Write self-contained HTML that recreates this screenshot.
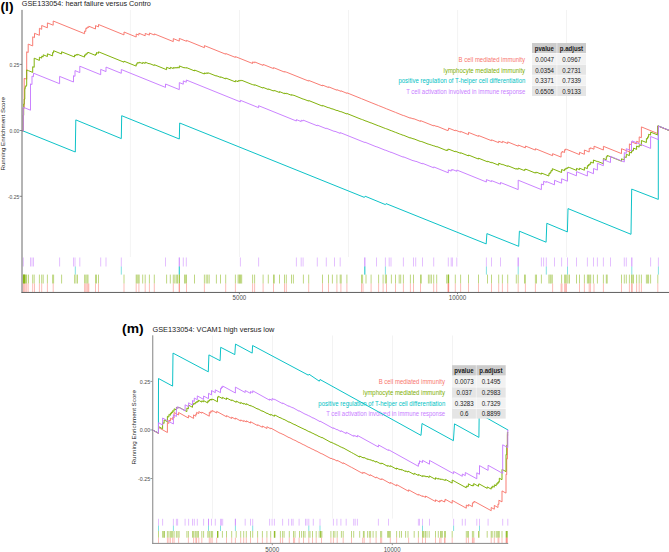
<!DOCTYPE html>
<html><head><meta charset="utf-8"><title>GSEA plots</title>
<style>html,body{margin:0;padding:0;background:#fff;width:669px;height:552px;overflow:hidden;}svg{display:block;}#w{width:669px;height:552px;}</style>
</head><body><div id="w">
<svg width="669" height="552" viewBox="0 0 669 552">
<style>
text{font-family:"Liberation Sans",sans-serif;}
.tick{fill:#4d4d4d;}
.xt{fill:#4d4d4d;}
.yt{fill:#1a1a1a;}
.ttl{fill:#1a1a1a;}
.lab{font-weight:bold;fill:#000;}
.th{font-weight:bold;fill:#1a1a1a;}
.td{fill:#1a1a1a;}
</style>
<rect width="669" height="552" fill="#fff"/>
<text x="0.51" y="10.80" class="lab" font-size="12.7" textLength="13.07" lengthAdjust="spacingAndGlyphs">(l)</text>
<text x="21.84" y="6.10" class="ttl" font-size="7.4" textLength="129.06" lengthAdjust="spacingAndGlyphs">GSE133054: heart failure versus Contro</text>
<line x1="130.4" y1="10" x2="130.4" y2="257" stroke="#ebebeb" stroke-width="0.6"/>
<line x1="239.5" y1="10" x2="239.5" y2="257" stroke="#ebebeb" stroke-width="0.6"/>
<line x1="348.5" y1="10" x2="348.5" y2="257" stroke="#ebebeb" stroke-width="0.6"/>
<line x1="457.6" y1="10" x2="457.6" y2="257" stroke="#ebebeb" stroke-width="0.6"/>
<line x1="566.5" y1="10" x2="566.5" y2="257" stroke="#ebebeb" stroke-width="0.6"/>
<text x="458.61" y="62.00" class="lg" fill="#F8766D" font-size="6.5" textLength="66.41" lengthAdjust="spacingAndGlyphs">B cell mediated immunity</text>
<text x="443.60" y="72.60" class="lg" fill="#7CAE00" font-size="6.5" textLength="81.42" lengthAdjust="spacingAndGlyphs">lymphocyte mediated immunity</text>
<text x="398.41" y="83.20" class="lg" fill="#00BFC4" font-size="6.5" textLength="126.97" lengthAdjust="spacingAndGlyphs">positive regulation of T-helper cell differentiation</text>
<text x="406.17" y="93.70" class="lg" fill="#C77CFF" font-size="6.5" textLength="119.09" lengthAdjust="spacingAndGlyphs">T cell activation involved in immune response</text>
<polyline points="22.0,130.5 75.3,152.0 75.8,119.9 121.3,138.6 121.7,115.7 179.3,139.0 179.7,123.0 364.4,197.4 365.1,196.2 385.4,204.6 386.0,203.6 486.2,243.9 486.9,233.6 518.7,246.3 519.4,231.2 546.1,242.2 546.8,223.3 567.4,231.9 568.0,208.6 631.0,234.3 631.7,189.1 658.3,199.4 658.3,125.9 669.0,130.4" fill="none" stroke="#00BFC4" stroke-width="0.95" stroke-linejoin="miter"/>
<polyline points="22.0,130.5 23.3,131.0 23.3,107.9 24.2,108.2 24.2,78.4 25.2,78.8 25.2,78.6 26.7,79.2 26.7,51.8 28.2,52.5 28.2,44.1 32.7,45.9 32.7,36.8 34.5,37.6 34.5,33.3 39.4,35.3 39.4,28.3 41.7,29.3 41.7,25.5 47.4,27.8 47.4,22.9 53.2,25.2 53.2,21.0 84.6,33.7 84.6,31.0 85.8,31.4 85.8,28.3 87.0,28.8 87.0,27.0 88.0,27.4 88.0,27.1 88.8,27.5 88.8,26.2 95.5,29.0 95.5,25.6 98.5,26.9 98.5,24.5 124.0,34.9 124.0,32.0 136.2,37.0 136.2,34.0 138.9,35.1 138.9,33.2 145.2,35.8 145.2,33.4 149.4,35.1 149.4,33.0 154.3,35.0 154.3,33.9 173.3,41.6 173.3,38.6 179.3,41.1 179.3,38.4 186.5,41.3 186.5,40.4 204.4,47.7 204.4,45.6 225.7,54.2 225.7,53.5 235.4,57.4 235.4,56.6 252.6,63.5 252.6,61.9 254.6,62.7 254.6,61.9 263.1,65.4 263.1,64.4 273.5,68.6 273.5,67.6 284.5,72.1 284.5,71.5 286.3,72.2 286.3,72.1 308.7,81.1 308.7,80.4 322.5,85.9 322.5,85.1 328.5,87.5 328.5,86.8 336.9,90.2 336.9,89.7 340.9,91.3 340.9,90.8 346.9,93.3 346.9,92.8 361.5,98.7 361.5,98.7 363.0,99.3 363.0,99.3 371.1,102.6 371.1,102.6 378.6,105.6 378.6,105.6 383.1,107.4 383.1,107.4 386.5,108.8 386.5,108.8 395.5,112.4 395.5,112.4 403.4,115.6 403.4,115.4 410.4,118.2 410.4,117.8 413.5,119.0 413.5,118.6 420.5,121.4 420.5,120.6 433.7,125.9 433.7,125.3 436.7,126.5 436.7,126.1 447.9,130.7 447.9,129.8 448.6,130.0 448.6,128.1 455.3,130.8 455.3,130.1 460.6,132.2 460.6,131.4 468.5,134.6 468.5,132.4 478.5,136.4 478.5,135.5 491.5,140.7 491.5,139.8 498.7,142.7 498.7,141.2 502.4,142.7 502.4,141.3 507.7,143.5 507.7,141.9 518.2,146.2 518.2,145.0 525.4,147.9 525.4,146.0 535.4,150.1 535.4,148.7 552.6,155.7 552.6,153.7 561.1,157.1 561.1,152.7 562.0,153.0 562.0,151.4 564.6,152.5 564.6,149.7 565.6,150.1 565.6,149.0 566.5,149.3 566.5,149.3 579.5,154.6 579.5,152.3 584.4,154.3 584.4,150.0 589.2,152.0 589.2,148.3 590.4,148.8 590.4,147.8 594.0,149.2 594.0,146.2 603.4,150.0 603.4,146.3 621.5,153.6 621.5,148.7 629.4,151.9 629.4,143.9 631.5,144.8 631.5,141.8 632.3,142.2 632.3,142.2 636.6,143.9 636.6,141.3 639.2,142.4 639.2,136.9 641.4,137.7 641.4,126.9 657.8,133.6 657.8,125.9 669.3,130.6" fill="none" stroke="#F8766D" stroke-width="0.95" stroke-linejoin="miter"/>
<polyline points="22.0,130.5 23.3,131.0 23.3,115.1 23.7,115.3 23.7,104.0 24.2,104.2 24.2,99.0 24.8,99.2 24.8,88.6 25.2,88.8 25.2,86.7 26.0,87.0 26.0,85.2 26.7,85.5 26.7,69.9 28.5,70.7 28.5,70.7 32.7,72.4 32.7,66.7 34.2,67.3 34.2,58.2 39.4,60.4 39.4,57.2 41.7,58.1 41.7,56.2 43.2,56.9 43.2,54.8 47.4,56.5 47.4,53.8 52.6,55.9 52.6,52.5 53.6,52.9 53.6,50.7 61.6,54.0 61.6,51.8 74.6,57.0 74.6,55.0 76.0,55.6 76.0,54.5 77.5,55.1 77.5,54.3 84.6,57.1 84.6,54.9 85.8,55.3 85.8,53.8 87.0,54.3 87.0,52.8 88.0,53.2 88.0,52.3 95.5,55.4 95.5,54.1 96.5,54.5 96.5,52.5 98.5,53.3 98.5,51.8 124.0,62.2 124.0,61.2 136.2,66.1 136.2,64.0 137.1,64.3 137.1,62.7 138.2,63.1 138.2,62.7 139.2,63.1 139.2,62.2 142.7,63.6 142.7,62.4 145.2,63.4 145.2,62.2 149.4,63.9 149.4,63.5 154.3,65.5 154.3,64.7 166.6,69.7 166.6,67.3 170.3,68.8 170.3,67.3 173.3,68.6 173.3,67.5 174.8,68.1 174.8,67.5 176.3,68.1 176.3,67.5 177.5,68.0 177.5,67.3 179.3,68.0 179.3,65.9 184.5,68.0 184.5,67.5 185.6,67.9 185.6,67.8 186.5,68.1 186.5,67.6 194.5,70.9 194.5,70.0 204.4,74.0 204.4,72.9 206.2,73.6 206.2,72.9 207.7,73.5 207.7,72.7 209.2,73.3 209.2,73.2 216.4,76.1 216.4,75.7 220.5,77.4 220.5,76.8 225.7,78.9 225.7,78.0 235.4,81.9 235.4,80.6 238.1,81.7 238.1,80.6 239.2,81.1 239.2,80.6 239.9,80.8 239.9,80.4 240.7,80.8 240.7,80.3 241.7,80.7 241.7,80.3 252.6,84.7 252.6,84.5 254.6,85.3 254.6,84.7 263.1,88.1 263.1,87.4 268.3,89.5 268.3,88.9 273.5,91.0 273.5,90.7 274.3,91.0 274.3,90.4 279.5,92.5 279.5,91.6 284.5,93.7 284.5,93.0 286.3,93.8 286.3,93.2 291.5,95.3 291.5,94.6 293.4,95.4 293.4,95.1 303.4,99.2 303.4,99.0 308.7,101.1 308.7,100.5 322.5,106.1 322.5,105.4 328.5,107.8 328.5,107.5 332.4,109.1 332.4,108.8 336.9,110.6 336.9,110.3 340.2,111.6 340.2,111.5 341.2,111.9 341.2,111.7 346.9,114.0 346.9,113.5 361.5,119.4 361.5,119.3 362.6,119.7 362.6,119.7 366.0,121.1 366.0,121.0 371.1,123.0 371.1,122.9 378.6,125.9 378.6,125.8 383.1,127.6 383.1,127.6 385.4,128.5 385.4,128.5 386.5,128.9 386.5,128.8 391.4,130.8 391.4,130.7 395.5,132.4 395.5,132.3 399.2,133.8 399.2,133.8 400.7,134.4 400.7,134.3 403.4,135.4 403.4,135.2 410.4,138.1 410.4,137.7 413.5,139.0 413.5,138.7 420.5,141.5 420.5,141.3 421.3,141.6 421.3,141.4 428.4,144.2 428.4,144.0 429.9,144.6 429.9,144.5 431.4,145.1 431.4,145.0 433.7,145.9 433.7,145.7 436.7,146.9 436.7,146.5 446.7,150.6 446.7,149.9 447.9,150.4 447.9,149.1 448.6,149.4 448.6,149.1 455.3,151.8 455.3,151.2 460.6,153.3 460.6,152.7 468.5,155.9 468.5,155.0 478.5,159.1 478.5,158.2 487.5,161.8 487.5,161.2 491.5,162.8 491.5,162.3 498.7,165.2 498.7,163.2 502.4,164.7 502.4,164.3 507.7,166.4 507.7,165.7 516.3,169.2 516.3,168.6 518.2,169.3 518.2,168.1 524.5,170.6 524.5,169.5 525.4,169.9 525.4,169.0 535.4,173.1 535.4,172.3 536.5,172.8 536.5,172.2 541.4,174.2 541.4,173.0 548.9,176.0 548.9,173.5 550.1,173.9 550.1,172.0 551.1,172.4 551.1,170.4 552.3,170.9 552.3,168.7 561.6,172.5 561.6,169.5 564.6,170.7 564.6,169.0 565.6,169.4 565.6,168.4 566.8,168.9 566.8,167.8 568.0,168.3 568.0,167.1 569.5,167.7 569.5,167.5 576.5,170.4 576.5,168.4 579.5,169.7 579.5,168.2 584.4,170.2 584.4,167.4 587.4,168.6 587.4,165.6 588.5,166.1 588.5,164.6 589.7,165.1 589.7,163.8 590.7,164.2 590.7,162.0 593.4,163.1 593.4,160.0 597.4,161.6 597.4,161.3 603.4,163.7 603.4,158.5 606.3,159.7 606.3,156.7 607.2,157.0 607.2,155.4 621.5,161.2 621.5,158.8 624.3,160.0 624.3,156.7 626.3,157.5 626.3,154.3 629.4,155.6 629.4,152.2 631.5,153.0 631.5,151.1 632.3,151.5 632.3,150.2 633.5,150.7 633.5,148.1 636.6,149.4 636.6,146.0 639.2,147.1 639.2,144.7 641.4,145.6 641.4,140.5 646.4,142.5 646.4,138.5 647.6,139.0 647.6,136.9 648.6,137.3 648.6,134.3 650.6,135.1 650.6,132.1 657.8,135.0 657.8,125.9 669.3,130.5" fill="none" stroke="#7CAE00" stroke-width="0.95" stroke-linejoin="miter"/>
<polyline points="22.0,130.5 23.3,131.0 23.3,107.3 30.5,110.2 30.5,83.9 32.0,84.5 32.0,76.1 33.5,76.7 33.5,73.2 59.6,83.7 59.6,76.4 73.5,82.0 73.5,75.7 75.0,76.3 75.0,70.6 79.8,72.6 79.8,66.2 100.7,74.7 100.7,69.4 106.0,71.6 106.0,67.1 121.3,73.3 121.3,69.5 165.5,87.4 165.5,84.0 179.3,89.6 179.3,82.6 183.3,84.2 183.3,80.9 186.3,82.2 186.3,80.0 240.4,101.9 240.4,100.3 258.6,107.7 258.6,105.7 296.4,121.0 296.4,119.6 301.2,121.6 301.2,120.2 303.1,121.0 303.1,120.1 317.3,125.8 317.3,125.1 326.3,128.7 326.3,128.2 334.5,131.5 334.5,131.1 340.2,133.4 340.2,132.6 364.8,142.5 364.8,142.1 376.5,146.9 376.5,146.7 385.4,150.3 385.4,150.1 389.2,151.7 389.2,151.6 391.0,152.4 391.0,152.2 403.4,157.2 403.4,156.8 413.5,160.9 413.5,160.6 415.7,161.5 415.7,161.2 422.5,163.9 422.5,163.3 433.7,167.8 433.7,166.9 448.3,172.8 448.3,169.9 451.2,171.1 451.2,169.7 452.4,170.2 452.4,169.5 456.8,171.3 456.8,170.0 486.4,182.0 486.4,179.6 491.5,181.6 491.5,180.6 500.5,184.2 500.5,182.5 518.2,189.6 518.2,180.2 541.4,189.6 541.4,184.0 543.6,184.9 543.6,181.3 546.3,182.4 546.3,181.5 554.5,184.8 554.5,180.3 561.6,183.2 561.6,178.8 567.5,181.2 567.5,172.2 576.5,175.8 576.5,171.6 587.4,176.0 587.4,171.2 593.5,173.7 593.5,168.5 597.4,170.1 597.4,163.3 603.4,165.7 603.4,159.6 610.5,162.5 610.5,156.4 624.3,162.0 624.3,152.6 626.3,153.4 626.3,148.7 631.5,150.8 631.5,142.2 632.1,142.5 632.1,140.9 650.6,148.4 650.6,136.5 658.4,139.6 658.4,126.0 669.3,130.4" fill="none" stroke="#C77CFF" stroke-width="0.95" stroke-linejoin="miter"/>
<rect x="532.0" y="43.00" width="24.70" height="10.10" fill="#cccccc"/>
<rect x="557.20" y="43.00" width="28.80" height="10.10" fill="#cccccc"/>
<rect x="532.0" y="53.60" width="24.70" height="10.50" fill="#f2f2f2"/>
<rect x="557.20" y="53.60" width="28.80" height="10.50" fill="#f2f2f2"/>
<rect x="532.0" y="64.60" width="24.70" height="10.20" fill="#e5e5e5"/>
<rect x="557.20" y="64.60" width="28.80" height="10.20" fill="#e5e5e5"/>
<rect x="532.0" y="75.30" width="24.70" height="10.00" fill="#f2f2f2"/>
<rect x="557.20" y="75.30" width="28.80" height="10.00" fill="#f2f2f2"/>
<rect x="532.0" y="85.80" width="24.70" height="10.20" fill="#e5e5e5"/>
<rect x="557.20" y="85.80" width="28.80" height="10.20" fill="#e5e5e5"/>
<text x="534.72" y="50.70" class="th" font-size="6.4" textLength="19.17" lengthAdjust="spacingAndGlyphs">pvalue</text>
<text x="559.84" y="50.70" class="th" font-size="6.4" textLength="23.19" lengthAdjust="spacingAndGlyphs">p.adjust</text>
<text x="535.23" y="62.00" class="td" font-size="6.4" textLength="18.81" lengthAdjust="spacingAndGlyphs">0.0047</text>
<text x="562.23" y="62.00" class="td" font-size="6.4" textLength="18.81" lengthAdjust="spacingAndGlyphs">0.0967</text>
<text x="535.17" y="72.60" class="td" font-size="6.4" textLength="18.81" lengthAdjust="spacingAndGlyphs">0.0354</text>
<text x="562.23" y="72.60" class="td" font-size="6.4" textLength="18.81" lengthAdjust="spacingAndGlyphs">0.2731</text>
<text x="535.23" y="83.20" class="td" font-size="6.4" textLength="18.81" lengthAdjust="spacingAndGlyphs">0.3371</text>
<text x="562.22" y="83.20" class="td" font-size="6.4" textLength="18.81" lengthAdjust="spacingAndGlyphs">0.7339</text>
<text x="535.21" y="93.70" class="td" font-size="6.4" textLength="18.81" lengthAdjust="spacingAndGlyphs">0.6505</text>
<text x="562.21" y="93.70" class="td" font-size="6.4" textLength="18.81" lengthAdjust="spacingAndGlyphs">0.9133</text>
<path d="M23.3 257.5V266.5 M30.5 257.5V266.5 M32.0 257.5V266.5 M33.5 257.5V266.5 M59.6 257.5V266.5 M73.5 257.5V266.5 M75.0 257.5V266.5 M79.8 257.5V266.5 M100.7 257.5V266.5 M106.0 257.5V266.5 M121.3 257.5V266.5 M165.5 257.5V266.5 M179.3 257.5V266.5 M183.3 257.5V266.5 M186.3 257.5V266.5 M240.4 257.5V266.5 M258.6 257.5V266.5 M296.4 257.5V266.5 M301.2 257.5V266.5 M303.1 257.5V266.5 M317.3 257.5V266.5 M326.3 257.5V266.5 M334.5 257.5V266.5 M340.2 257.5V266.5 M364.8 257.5V266.5 M376.5 257.5V266.5 M385.4 257.5V266.5 M389.2 257.5V266.5 M391.0 257.5V266.5 M403.4 257.5V266.5 M413.5 257.5V266.5 M415.7 257.5V266.5 M422.5 257.5V266.5 M433.7 257.5V266.5 M448.3 257.5V266.5 M451.2 257.5V266.5 M452.4 257.5V266.5 M456.8 257.5V266.5 M486.4 257.5V266.5 M491.5 257.5V266.5 M500.5 257.5V266.5 M518.2 257.5V266.5 M541.4 257.5V266.5 M543.6 257.5V266.5 M546.3 257.5V266.5 M554.5 257.5V266.5 M561.6 257.5V266.5 M567.5 257.5V266.5 M576.5 257.5V266.5 M587.4 257.5V266.5 M593.5 257.5V266.5 M597.4 257.5V266.5 M603.4 257.5V266.5 M610.5 257.5V266.5 M624.3 257.5V266.5 M626.3 257.5V266.5 M631.5 257.5V266.5 M632.1 257.5V266.5 M650.6 257.5V266.5 M658.4 257.5V266.5" stroke="#C77CFF" stroke-width="0.9" stroke-opacity="0.55" fill="none"/>
<path d="M179.3 257.5V266.5 M364.8 257.5V266.5 M518.2 257.5V266.5" stroke="#C77CFF" stroke-width="0.9" stroke-opacity="0.75" fill="none"/>
<path d="M75.3 266.5V274.6 M121.3 266.5V274.6 M179.3 266.5V274.6 M364.8 266.5V274.6 M385.4 266.5V274.6 M486.4 266.5V274.6 M518.2 266.5V274.6 M546.3 266.5V274.6 M567.5 266.5V274.6 M631.8 266.5V274.6 M658.4 266.5V274.6" stroke="#00BFC4" stroke-width="0.9" stroke-opacity="0.55" fill="none"/>
<path d="M179.3 266.5V274.6 M364.8 266.5V274.6" stroke="#00BFC4" stroke-width="0.9" stroke-opacity="0.75" fill="none"/>
<path d="M23.3 274.6V283.5 M23.7 274.6V283.5 M24.2 274.6V283.5 M24.8 274.6V283.5 M25.2 274.6V283.5 M26.0 274.6V283.5 M26.7 274.6V283.5 M28.5 274.6V283.5 M32.7 274.6V283.5 M34.2 274.6V283.5 M39.4 274.6V283.5 M41.7 274.6V283.5 M43.2 274.6V283.5 M47.4 274.6V283.5 M52.6 274.6V283.5 M53.6 274.6V283.5 M61.6 274.6V283.5 M74.6 274.6V283.5 M76.0 274.6V283.5 M77.5 274.6V283.5 M84.6 274.6V283.5 M85.8 274.6V283.5 M87.0 274.6V283.5 M88.0 274.6V283.5 M95.5 274.6V283.5 M96.5 274.6V283.5 M98.5 274.6V283.5 M124.0 274.6V283.5 M136.2 274.6V283.5 M137.1 274.6V283.5 M138.2 274.6V283.5 M139.2 274.6V283.5 M142.7 274.6V283.5 M145.2 274.6V283.5 M149.4 274.6V283.5 M154.3 274.6V283.5 M166.6 274.6V283.5 M170.3 274.6V283.5 M173.3 274.6V283.5 M174.8 274.6V283.5 M176.3 274.6V283.5 M177.5 274.6V283.5 M179.3 274.6V283.5 M184.5 274.6V283.5 M185.6 274.6V283.5 M186.5 274.6V283.5 M194.5 274.6V283.5 M204.4 274.6V283.5 M206.2 274.6V283.5 M207.7 274.6V283.5 M209.2 274.6V283.5 M216.4 274.6V283.5 M220.5 274.6V283.5 M225.7 274.6V283.5 M235.4 274.6V283.5 M238.1 274.6V283.5 M239.2 274.6V283.5 M239.9 274.6V283.5 M240.7 274.6V283.5 M241.7 274.6V283.5 M252.6 274.6V283.5 M254.6 274.6V283.5 M263.1 274.6V283.5 M268.3 274.6V283.5 M273.5 274.6V283.5 M274.3 274.6V283.5 M279.5 274.6V283.5 M284.5 274.6V283.5 M286.3 274.6V283.5 M291.5 274.6V283.5 M293.4 274.6V283.5 M303.4 274.6V283.5 M308.7 274.6V283.5 M322.5 274.6V283.5 M328.5 274.6V283.5 M332.4 274.6V283.5 M336.9 274.6V283.5 M340.2 274.6V283.5 M341.2 274.6V283.5 M346.9 274.6V283.5 M361.5 274.6V283.5 M362.6 274.6V283.5 M366.0 274.6V283.5 M371.1 274.6V283.5 M378.6 274.6V283.5 M383.1 274.6V283.5 M385.4 274.6V283.5 M386.5 274.6V283.5 M391.4 274.6V283.5 M395.5 274.6V283.5 M399.2 274.6V283.5 M400.7 274.6V283.5 M403.4 274.6V283.5 M410.4 274.6V283.5 M413.5 274.6V283.5 M420.5 274.6V283.5 M421.3 274.6V283.5 M428.4 274.6V283.5 M429.9 274.6V283.5 M431.4 274.6V283.5 M433.7 274.6V283.5 M436.7 274.6V283.5 M446.7 274.6V283.5 M447.9 274.6V283.5 M448.6 274.6V283.5 M455.3 274.6V283.5 M460.6 274.6V283.5 M468.5 274.6V283.5 M478.5 274.6V283.5 M487.5 274.6V283.5 M491.5 274.6V283.5 M498.7 274.6V283.5 M502.4 274.6V283.5 M507.7 274.6V283.5 M516.3 274.6V283.5 M518.2 274.6V283.5 M524.5 274.6V283.5 M525.4 274.6V283.5 M535.4 274.6V283.5 M536.5 274.6V283.5 M541.4 274.6V283.5 M548.9 274.6V283.5 M550.1 274.6V283.5 M551.1 274.6V283.5 M552.3 274.6V283.5 M561.6 274.6V283.5 M564.6 274.6V283.5 M565.6 274.6V283.5 M566.8 274.6V283.5 M568.0 274.6V283.5 M569.5 274.6V283.5 M576.5 274.6V283.5 M579.5 274.6V283.5 M584.4 274.6V283.5 M587.4 274.6V283.5 M588.5 274.6V283.5 M589.7 274.6V283.5 M590.7 274.6V283.5 M593.4 274.6V283.5 M597.4 274.6V283.5 M603.4 274.6V283.5 M606.3 274.6V283.5 M607.2 274.6V283.5 M621.5 274.6V283.5 M624.3 274.6V283.5 M626.3 274.6V283.5 M629.4 274.6V283.5 M631.5 274.6V283.5 M632.3 274.6V283.5 M633.5 274.6V283.5 M636.6 274.6V283.5 M639.2 274.6V283.5 M641.4 274.6V283.5 M646.4 274.6V283.5 M647.6 274.6V283.5 M648.6 274.6V283.5 M650.6 274.6V283.5 M657.8 274.6V283.5" stroke="#7CAE00" stroke-width="0.9" stroke-opacity="0.55" fill="none"/>
<path d="M23.5 274.6V283.5 M24.5 274.6V283.5 M179.3 274.6V283.5 M448.6 274.6V283.5" stroke="#7CAE00" stroke-width="0.9" stroke-opacity="0.75" fill="none"/>
<path d="M23.3 283.5V292 M24.2 283.5V292 M25.2 283.5V292 M26.7 283.5V292 M28.2 283.5V292 M32.7 283.5V292 M34.5 283.5V292 M39.4 283.5V292 M41.7 283.5V292 M47.4 283.5V292 M53.2 283.5V292 M84.6 283.5V292 M85.8 283.5V292 M87.0 283.5V292 M88.0 283.5V292 M88.8 283.5V292 M95.5 283.5V292 M98.5 283.5V292 M124.0 283.5V292 M136.2 283.5V292 M138.9 283.5V292 M145.2 283.5V292 M149.4 283.5V292 M154.3 283.5V292 M173.3 283.5V292 M179.3 283.5V292 M186.5 283.5V292 M204.4 283.5V292 M225.7 283.5V292 M235.4 283.5V292 M252.6 283.5V292 M254.6 283.5V292 M263.1 283.5V292 M273.5 283.5V292 M284.5 283.5V292 M286.3 283.5V292 M308.7 283.5V292 M322.5 283.5V292 M328.5 283.5V292 M336.9 283.5V292 M340.9 283.5V292 M346.9 283.5V292 M361.5 283.5V292 M363.0 283.5V292 M371.1 283.5V292 M378.6 283.5V292 M383.1 283.5V292 M386.5 283.5V292 M395.5 283.5V292 M403.4 283.5V292 M410.4 283.5V292 M413.5 283.5V292 M420.5 283.5V292 M433.7 283.5V292 M436.7 283.5V292 M447.9 283.5V292 M448.6 283.5V292 M455.3 283.5V292 M460.6 283.5V292 M468.5 283.5V292 M478.5 283.5V292 M491.5 283.5V292 M498.7 283.5V292 M502.4 283.5V292 M507.7 283.5V292 M518.2 283.5V292 M525.4 283.5V292 M535.4 283.5V292 M552.6 283.5V292 M561.1 283.5V292 M562.0 283.5V292 M564.6 283.5V292 M565.6 283.5V292 M566.5 283.5V292 M579.5 283.5V292 M584.4 283.5V292 M589.2 283.5V292 M590.4 283.5V292 M594.0 283.5V292 M603.4 283.5V292 M621.5 283.5V292 M629.4 283.5V292 M631.5 283.5V292 M632.3 283.5V292 M636.6 283.5V292 M639.2 283.5V292 M641.4 283.5V292 M657.8 283.5V292" stroke="#F8766D" stroke-width="0.9" stroke-opacity="0.55" fill="none"/>
<path d="M179.3 283.5V292 M448.6 283.5V292" stroke="#F8766D" stroke-width="0.9" stroke-opacity="0.75" fill="none"/>
<path d="M22.0 9.9V292.9" stroke="#6b6b6b" stroke-width="1" fill="none"/>
<path d="M21.5 292.45H669" stroke="#5f5f5f" stroke-width="1" fill="none"/>
<line x1="19.6" y1="64.4" x2="22" y2="64.4" stroke="#6a6a6a" stroke-width="0.8"/>
<text x="9.62" y="66.70" class="tick" font-size="5.4" textLength="9.63" lengthAdjust="spacingAndGlyphs">0.25</text>
<line x1="19.6" y1="130.5" x2="22" y2="130.5" stroke="#6a6a6a" stroke-width="0.8"/>
<text x="9.61" y="132.80" class="tick" font-size="5.4" textLength="9.63" lengthAdjust="spacingAndGlyphs">0.00</text>
<line x1="19.6" y1="196.3" x2="22" y2="196.3" stroke="#6a6a6a" stroke-width="0.8"/>
<text x="7.97" y="198.60" class="tick" font-size="5.4" textLength="11.28" lengthAdjust="spacingAndGlyphs">-0.25</text>
<line x1="239.4" y1="292.5" x2="239.4" y2="294.2" stroke="#6a6a6a" stroke-width="0.8"/>
<text x="232.61" y="300.20" class="xt" font-size="6.6" textLength="13.59" lengthAdjust="spacingAndGlyphs">5000</text>
<line x1="457.5" y1="292.5" x2="457.5" y2="294.2" stroke="#6a6a6a" stroke-width="0.8"/>
<text x="448.63" y="300.20" class="xt" font-size="6.6" textLength="17.51" lengthAdjust="spacingAndGlyphs">10000</text>
<g transform="translate(5.3,0) rotate(-90 0 0)"><text x="-170.51" y="0.00" class="yt" font-size="6.2" textLength="73.47" lengthAdjust="spacingAndGlyphs">Running Enrichment Score</text></g>
<text x="122.11" y="333.00" class="lab" font-size="12.7" textLength="21.55" lengthAdjust="spacingAndGlyphs">(m)</text>
<text x="152.53" y="331.60" class="ttl" font-size="7.4" textLength="121.85" lengthAdjust="spacingAndGlyphs">GSE133054: VCAM1 high versus low</text>
<line x1="212.5" y1="335.5" x2="212.5" y2="518.6" stroke="#ebebeb" stroke-width="0.6"/>
<line x1="272.5" y1="335.5" x2="272.5" y2="518.6" stroke="#ebebeb" stroke-width="0.6"/>
<line x1="332.5" y1="335.5" x2="332.5" y2="518.6" stroke="#ebebeb" stroke-width="0.6"/>
<line x1="392.5" y1="335.5" x2="392.5" y2="518.6" stroke="#ebebeb" stroke-width="0.6"/>
<line x1="452.5" y1="335.5" x2="452.5" y2="518.6" stroke="#ebebeb" stroke-width="0.6"/>
<text x="378.71" y="383.80" class="lg" fill="#F8766D" font-size="6.5" textLength="66.21" lengthAdjust="spacingAndGlyphs">B cell mediated immunity</text>
<text x="363.10" y="394.60" class="lg" fill="#7CAE00" font-size="6.5" textLength="81.82" lengthAdjust="spacingAndGlyphs">lymphocyte mediated immunity</text>
<text x="318.31" y="405.50" class="lg" fill="#00BFC4" font-size="6.5" textLength="126.97" lengthAdjust="spacingAndGlyphs">positive regulation of T-helper cell differentiation</text>
<text x="326.17" y="416.30" class="lg" fill="#C77CFF" font-size="6.5" textLength="118.99" lengthAdjust="spacingAndGlyphs">T cell activation involved in immune response</text>
<polyline points="152.6,430.0 158.4,433.0 158.5,378.5 172.6,386.1 173.0,353.1 208.3,371.8 208.9,354.9 220.1,360.7 220.7,347.3 234.8,354.6 235.5,344.1 252.2,353.1 252.6,345.5 308.4,375.2 309.0,374.2 319.3,381.2 320.0,379.5 421.0,435.4 422.0,423.5 453.4,440.7 454.5,423.9 478.9,437.4 479.2,413.7 508.0,430.0" fill="none" stroke="#00BFC4" stroke-width="0.95" stroke-linejoin="miter"/>
<polyline points="152.6,430.0 158.5,433.3 158.5,427.5 167.4,432.5 167.4,422.5 168.9,423.4 168.9,420.2 170.4,421.0 170.4,418.2 172.7,419.5 172.7,417.3 174.1,418.0 174.1,412.5 178.6,415.0 178.6,412.5 188.4,418.0 188.4,415.5 193.6,418.4 193.6,414.9 195.8,416.2 195.8,414.1 196.6,414.5 196.6,412.4 198.8,413.6 198.8,411.6 201.8,413.2 201.8,412.1 209.3,416.2 209.3,412.2 210.8,413.1 210.8,410.9 212.2,411.6 212.2,410.5 216.7,413.0 216.7,411.4 226.5,416.8 226.5,415.6 231.7,418.5 231.7,417.1 235.4,419.2 235.4,418.0 240.7,421.0 240.7,419.9 243.7,421.5 243.7,420.5 246.3,422.0 246.3,420.8 250.5,423.1 250.5,421.7 257.6,425.6 257.6,424.7 262.4,427.3 262.4,426.0 266.9,428.5 266.9,426.7 270.7,428.8 270.7,428.0 280.4,433.4 280.4,433.1 282.6,434.3 282.6,434.1 289.3,437.8 289.3,437.5 293.5,439.8 293.5,439.7 294.6,440.3 294.6,440.1 299.1,442.6 299.1,442.4 303.5,444.8 303.5,444.6 308.8,447.5 308.8,447.3 312.5,449.3 312.5,449.1 316.2,451.1 316.2,450.9 321.5,453.8 321.5,453.5 330.9,458.6 330.9,458.1 333.4,459.5 333.4,459.0 337.2,461.1 337.2,460.3 343.2,463.6 343.2,462.8 351.5,467.4 351.5,467.3 362.7,473.5 362.7,472.3 364.2,473.1 364.2,472.5 370.1,475.7 370.1,474.7 376.1,478.0 376.1,477.0 380.6,479.5 380.6,479.0 381.7,479.6 381.7,478.7 390.3,483.5 390.3,482.4 396.6,485.9 396.6,484.6 408.6,491.3 408.6,489.8 418.4,495.2 418.4,494.3 422.5,496.5 422.5,495.8 425.5,497.4 425.5,496.0 435.5,501.5 435.5,499.8 439.7,502.1 439.7,500.6 441.0,501.3 441.0,500.1 444.5,502.0 444.5,500.9 445.1,501.3 445.1,499.2 452.2,503.2 452.2,500.4 466.3,508.2 466.3,505.0 468.4,506.2 468.4,504.5 472.4,506.7 472.4,503.1 473.1,503.4 473.1,502.1 474.1,502.7 474.1,501.3 491.2,510.7 491.2,507.5 494.3,509.2 494.3,505.4 498.0,507.5 498.0,503.9 498.9,504.4 498.9,500.2 502.0,501.9 502.0,490.9 506.0,493.1 506.0,474.2 506.7,474.6 506.7,458.5 507.4,458.9 507.4,434.3 508.3,434.8" fill="none" stroke="#F8766D" stroke-width="0.95" stroke-linejoin="miter"/>
<polyline points="152.6,430.0 158.5,433.3 158.5,426.5 162.6,428.8 162.6,422.6 164.1,423.4 164.1,419.9 167.4,421.7 167.4,416.3 168.9,417.1 168.9,414.5 170.4,415.3 170.4,413.1 171.6,413.8 171.6,412.0 172.7,412.6 172.7,410.6 174.1,411.4 174.1,408.8 176.4,410.0 176.4,407.3 177.9,408.2 177.9,407.3 179.1,408.0 179.1,407.3 186.9,411.6 186.9,408.0 188.4,408.8 188.4,405.1 192.5,407.3 192.5,404.2 193.6,404.8 193.6,403.3 195.1,404.1 195.1,402.6 196.1,403.1 196.1,401.8 197.3,402.4 197.3,401.0 198.5,401.6 198.5,400.2 201.8,402.1 201.8,400.8 203.6,401.8 203.6,400.6 207.8,403.0 207.8,400.9 209.0,401.5 209.0,400.0 210.0,400.6 210.0,399.2 211.5,400.1 211.5,399.1 212.6,399.7 212.6,399.1 217.5,401.8 217.5,397.2 218.2,397.6 218.2,396.2 222.4,398.6 222.4,397.3 226.5,399.5 226.5,397.9 231.7,400.7 231.7,399.8 236.2,402.3 236.2,401.0 240.7,403.5 240.7,402.4 243.7,404.1 243.7,403.3 246.3,404.7 246.3,403.7 250.5,406.0 250.5,405.4 252.7,406.7 252.7,406.4 257.6,409.1 257.6,408.7 262.4,411.3 262.4,410.9 266.9,413.4 266.9,413.1 270.7,415.2 270.7,414.3 274.4,416.3 274.4,415.0 275.1,415.4 275.1,415.1 280.4,418.0 280.4,417.7 282.6,418.9 282.6,418.8 284.1,419.6 284.1,419.4 289.3,422.3 289.3,421.9 293.5,424.2 293.5,424.0 295.0,424.9 295.0,424.7 299.5,427.1 299.5,426.9 301.6,428.1 301.6,427.9 303.5,429.0 303.5,428.8 305.0,429.7 305.0,429.5 308.8,431.6 308.8,431.4 310.0,432.1 310.0,431.9 312.5,433.3 312.5,433.1 316.2,435.1 316.2,434.9 319.2,436.6 319.2,436.4 320.7,437.2 320.7,437.1 321.9,437.8 321.9,437.4 330.9,442.4 330.9,442.0 333.4,443.4 333.4,443.2 334.9,444.1 334.9,443.9 337.2,445.2 337.2,445.0 341.4,447.3 341.4,447.1 343.2,448.1 343.2,447.9 351.5,452.5 351.5,452.5 353.7,453.7 353.7,453.7 359.7,457.1 359.7,456.0 363.4,458.0 363.4,457.5 364.2,458.0 364.2,457.5 367.6,459.4 367.6,458.8 369.4,459.8 369.4,459.5 370.6,460.1 370.6,459.7 373.1,461.1 373.1,460.5 376.1,462.2 376.1,461.3 380.6,463.8 380.6,463.2 381.7,463.8 381.7,463.0 387.6,466.3 387.6,465.5 388.5,466.0 388.5,465.8 389.6,466.4 389.6,466.2 390.3,466.6 390.3,465.7 396.6,469.2 396.6,468.0 399.6,469.7 399.6,469.1 401.5,470.1 401.5,469.4 405.6,471.6 405.6,470.8 408.0,472.1 408.0,471.1 414.2,474.5 414.2,473.2 418.4,475.5 418.4,474.4 422.5,476.6 422.5,475.7 423.2,476.1 423.2,475.8 424.0,476.3 424.0,475.8 425.5,476.7 425.5,476.1 427.0,476.9 427.0,476.3 429.2,477.5 429.2,475.9 435.5,479.4 435.5,477.7 438.3,479.2 438.3,478.3 440.5,479.5 440.5,478.9 441.4,479.4 441.4,479.1 442.4,479.6 442.4,479.2 444.5,480.3 444.5,479.9 445.5,480.4 445.5,479.4 452.2,483.1 452.2,480.0 466.3,487.8 466.3,486.0 467.7,486.8 467.7,485.9 468.4,486.3 468.4,483.8 472.4,486.0 472.4,485.1 473.7,485.8 473.7,483.6 478.5,486.3 478.5,484.2 479.1,484.5 479.1,483.9 487.2,488.4 487.2,486.9 491.2,489.1 491.2,487.4 492.2,488.0 492.2,486.1 494.3,487.2 494.3,484.8 496.2,485.9 496.2,483.8 497.3,484.4 497.3,482.7 498.4,483.3 498.4,481.7 499.3,482.2 499.3,478.2 502.0,479.7 502.0,469.4 506.0,471.6 506.0,454.4 506.7,454.8 506.7,445.3 507.4,445.7 507.4,432.2 508.3,432.7" fill="none" stroke="#7CAE00" stroke-width="0.95" stroke-linejoin="miter"/>
<polyline points="152.6,430.0 158.5,433.3 158.5,422.7 162.6,425.0 162.6,418.0 173.4,424.0 173.4,414.8 176.4,416.4 176.4,407.8 177.6,408.5 177.6,406.7 185.1,410.9 185.1,404.8 188.6,406.7 188.6,402.8 192.5,405.0 192.5,400.5 194.3,401.5 194.3,398.0 197.3,399.7 197.3,395.9 203.6,399.4 203.6,396.0 208.5,398.7 208.5,393.3 211.5,394.9 211.5,390.5 215.3,392.7 215.3,389.8 220.5,392.7 220.5,388.3 221.5,388.9 221.5,386.9 222.7,387.6 222.7,386.0 235.4,393.0 235.4,387.1 245.2,392.5 245.2,390.5 250.5,393.4 250.5,391.5 252.7,392.8 252.7,390.8 269.6,400.2 269.6,399.0 272.1,400.4 272.1,398.5 274.4,399.7 274.4,399.2 282.6,403.7 282.6,402.9 288.6,406.3 288.6,405.8 291.6,407.4 291.6,407.2 293.1,408.0 293.1,407.8 299.1,411.2 299.1,410.8 305.5,414.4 305.5,414.1 307.0,415.0 307.0,414.9 308.8,415.9 308.8,415.7 313.3,418.2 313.3,417.9 320.0,421.6 320.0,421.1 333.4,428.5 333.4,427.8 336.9,429.8 336.9,429.4 340.9,431.6 340.9,430.7 346.2,433.6 346.2,432.2 353.7,436.3 353.7,435.3 355.2,436.2 355.2,435.8 357.4,437.0 357.4,435.4 378.4,447.0 378.4,444.9 388.5,450.5 388.5,449.7 418.4,466.3 418.4,463.2 419.5,463.8 419.5,460.8 422.5,462.5 422.5,460.3 429.5,464.2 429.5,460.4 453.6,473.7 453.6,471.5 462.3,476.3 462.3,474.0 465.3,475.6 465.3,472.5 476.8,478.8 476.8,472.8 479.5,474.3 479.5,465.6 488.1,470.4 488.1,465.3 502.7,473.4 502.7,444.8 507.8,447.6 507.8,429.9 508.3,430.1" fill="none" stroke="#C77CFF" stroke-width="0.95" stroke-linejoin="miter"/>
<rect x="452.1" y="365.20" width="23.80" height="10.30" fill="#cccccc"/>
<rect x="476.40" y="365.20" width="29.30" height="10.30" fill="#cccccc"/>
<rect x="452.1" y="376.00" width="23.80" height="10.90" fill="#f2f2f2"/>
<rect x="476.40" y="376.00" width="29.30" height="10.90" fill="#f2f2f2"/>
<rect x="452.1" y="387.40" width="23.80" height="10.30" fill="#e5e5e5"/>
<rect x="476.40" y="387.40" width="29.30" height="10.30" fill="#e5e5e5"/>
<rect x="452.1" y="398.20" width="23.80" height="10.30" fill="#f2f2f2"/>
<rect x="476.40" y="398.20" width="29.30" height="10.30" fill="#f2f2f2"/>
<rect x="452.1" y="409.00" width="23.80" height="9.60" fill="#e5e5e5"/>
<rect x="476.40" y="409.00" width="29.30" height="9.60" fill="#e5e5e5"/>
<text x="454.37" y="372.80" class="th" font-size="6.4" textLength="19.17" lengthAdjust="spacingAndGlyphs">pvalue</text>
<text x="479.29" y="372.80" class="th" font-size="6.4" textLength="23.19" lengthAdjust="spacingAndGlyphs">p.adjust</text>
<text x="454.86" y="383.80" class="td" font-size="6.4" textLength="18.81" lengthAdjust="spacingAndGlyphs">0.0073</text>
<text x="481.66" y="383.80" class="td" font-size="6.4" textLength="18.81" lengthAdjust="spacingAndGlyphs">0.1495</text>
<text x="456.59" y="394.60" class="td" font-size="6.4" textLength="15.39" lengthAdjust="spacingAndGlyphs">0.037</text>
<text x="481.66" y="394.60" class="td" font-size="6.4" textLength="18.81" lengthAdjust="spacingAndGlyphs">0.2983</text>
<text x="454.86" y="405.50" class="td" font-size="6.4" textLength="18.81" lengthAdjust="spacingAndGlyphs">0.3283</text>
<text x="481.67" y="405.50" class="td" font-size="6.4" textLength="18.81" lengthAdjust="spacingAndGlyphs">0.7329</text>
<text x="459.99" y="416.30" class="td" font-size="6.4" textLength="8.55" lengthAdjust="spacingAndGlyphs">0.6</text>
<text x="481.67" y="416.30" class="td" font-size="6.4" textLength="18.81" lengthAdjust="spacingAndGlyphs">0.8899</text>
<path d="M158.5 518.8V525.6 M162.6 518.8V525.6 M173.4 518.8V525.6 M176.4 518.8V525.6 M177.6 518.8V525.6 M185.1 518.8V525.6 M188.6 518.8V525.6 M192.5 518.8V525.6 M194.3 518.8V525.6 M197.3 518.8V525.6 M203.6 518.8V525.6 M208.5 518.8V525.6 M211.5 518.8V525.6 M215.3 518.8V525.6 M220.5 518.8V525.6 M221.5 518.8V525.6 M222.7 518.8V525.6 M235.4 518.8V525.6 M245.2 518.8V525.6 M250.5 518.8V525.6 M252.7 518.8V525.6 M269.6 518.8V525.6 M272.1 518.8V525.6 M274.4 518.8V525.6 M282.6 518.8V525.6 M288.6 518.8V525.6 M291.6 518.8V525.6 M293.1 518.8V525.6 M299.1 518.8V525.6 M305.5 518.8V525.6 M307.0 518.8V525.6 M308.8 518.8V525.6 M313.3 518.8V525.6 M320.0 518.8V525.6 M333.4 518.8V525.6 M336.9 518.8V525.6 M340.9 518.8V525.6 M346.2 518.8V525.6 M353.7 518.8V525.6 M355.2 518.8V525.6 M357.4 518.8V525.6 M378.4 518.8V525.6 M388.5 518.8V525.6 M418.4 518.8V525.6 M419.5 518.8V525.6 M422.5 518.8V525.6 M429.5 518.8V525.6 M453.6 518.8V525.6 M462.3 518.8V525.6 M465.3 518.8V525.6 M476.8 518.8V525.6 M479.5 518.8V525.6 M488.1 518.8V525.6 M502.7 518.8V525.6 M507.8 518.8V525.6" stroke="#C77CFF" stroke-width="0.9" stroke-opacity="0.55" fill="none"/>
<path d="M208.5 518.8V525.6 M235.4 518.8V525.6" stroke="#C77CFF" stroke-width="0.9" stroke-opacity="0.75" fill="none"/>
<path d="M158.5 525.6V531 M173.4 525.6V531 M208.5 525.6V531 M220.5 525.6V531 M235.4 525.6V531 M252.7 525.6V531 M308.8 525.6V531 M320.0 525.6V531 M422.5 525.6V531 M453.6 525.6V531 M479.5 525.6V531" stroke="#00BFC4" stroke-width="0.9" stroke-opacity="0.55" fill="none"/>
<path d="M158.5 531V537.7 M162.6 531V537.7 M164.1 531V537.7 M167.4 531V537.7 M168.9 531V537.7 M170.4 531V537.7 M171.6 531V537.7 M172.7 531V537.7 M174.1 531V537.7 M176.4 531V537.7 M177.9 531V537.7 M179.1 531V537.7 M186.9 531V537.7 M188.4 531V537.7 M192.5 531V537.7 M193.6 531V537.7 M195.1 531V537.7 M196.1 531V537.7 M197.3 531V537.7 M198.5 531V537.7 M201.8 531V537.7 M203.6 531V537.7 M207.8 531V537.7 M209.0 531V537.7 M210.0 531V537.7 M211.5 531V537.7 M212.6 531V537.7 M217.5 531V537.7 M218.2 531V537.7 M222.4 531V537.7 M226.5 531V537.7 M231.7 531V537.7 M236.2 531V537.7 M240.7 531V537.7 M243.7 531V537.7 M246.3 531V537.7 M250.5 531V537.7 M252.7 531V537.7 M257.6 531V537.7 M262.4 531V537.7 M266.9 531V537.7 M270.7 531V537.7 M274.4 531V537.7 M275.1 531V537.7 M280.4 531V537.7 M282.6 531V537.7 M284.1 531V537.7 M289.3 531V537.7 M293.5 531V537.7 M295.0 531V537.7 M299.5 531V537.7 M301.6 531V537.7 M303.5 531V537.7 M305.0 531V537.7 M308.8 531V537.7 M310.0 531V537.7 M312.5 531V537.7 M316.2 531V537.7 M319.2 531V537.7 M320.7 531V537.7 M321.9 531V537.7 M330.9 531V537.7 M333.4 531V537.7 M334.9 531V537.7 M337.2 531V537.7 M341.4 531V537.7 M343.2 531V537.7 M351.5 531V537.7 M353.7 531V537.7 M359.7 531V537.7 M363.4 531V537.7 M364.2 531V537.7 M367.6 531V537.7 M369.4 531V537.7 M370.6 531V537.7 M373.1 531V537.7 M376.1 531V537.7 M380.6 531V537.7 M381.7 531V537.7 M387.6 531V537.7 M388.5 531V537.7 M389.6 531V537.7 M390.3 531V537.7 M396.6 531V537.7 M399.6 531V537.7 M401.5 531V537.7 M405.6 531V537.7 M408.0 531V537.7 M414.2 531V537.7 M418.4 531V537.7 M422.5 531V537.7 M423.2 531V537.7 M424.0 531V537.7 M425.5 531V537.7 M427.0 531V537.7 M429.2 531V537.7 M435.5 531V537.7 M438.3 531V537.7 M440.5 531V537.7 M441.4 531V537.7 M442.4 531V537.7 M444.5 531V537.7 M445.5 531V537.7 M452.2 531V537.7 M466.3 531V537.7 M467.7 531V537.7 M468.4 531V537.7 M472.4 531V537.7 M473.7 531V537.7 M478.5 531V537.7 M479.1 531V537.7 M487.2 531V537.7 M491.2 531V537.7 M492.2 531V537.7 M494.3 531V537.7 M496.2 531V537.7 M497.3 531V537.7 M498.4 531V537.7 M499.3 531V537.7 M502.0 531V537.7 M506.0 531V537.7 M506.7 531V537.7 M507.4 531V537.7" stroke="#7CAE00" stroke-width="0.9" stroke-opacity="0.55" fill="none"/>
<path d="M164.1 531V537.7 M217.5 531V537.7 M274.4 531V537.7 M320.7 531V537.7 M506.7 531V537.7" stroke="#7CAE00" stroke-width="0.9" stroke-opacity="0.75" fill="none"/>
<path d="M158.5 537.7V543.0 M167.4 537.7V543.0 M168.9 537.7V543.0 M170.4 537.7V543.0 M172.7 537.7V543.0 M174.1 537.7V543.0 M178.6 537.7V543.0 M188.4 537.7V543.0 M193.6 537.7V543.0 M195.8 537.7V543.0 M196.6 537.7V543.0 M198.8 537.7V543.0 M201.8 537.7V543.0 M209.3 537.7V543.0 M210.8 537.7V543.0 M212.2 537.7V543.0 M216.7 537.7V543.0 M226.5 537.7V543.0 M231.7 537.7V543.0 M235.4 537.7V543.0 M240.7 537.7V543.0 M243.7 537.7V543.0 M246.3 537.7V543.0 M250.5 537.7V543.0 M257.6 537.7V543.0 M262.4 537.7V543.0 M266.9 537.7V543.0 M270.7 537.7V543.0 M280.4 537.7V543.0 M282.6 537.7V543.0 M289.3 537.7V543.0 M293.5 537.7V543.0 M294.6 537.7V543.0 M299.1 537.7V543.0 M303.5 537.7V543.0 M308.8 537.7V543.0 M312.5 537.7V543.0 M316.2 537.7V543.0 M321.5 537.7V543.0 M330.9 537.7V543.0 M333.4 537.7V543.0 M337.2 537.7V543.0 M343.2 537.7V543.0 M351.5 537.7V543.0 M362.7 537.7V543.0 M364.2 537.7V543.0 M370.1 537.7V543.0 M376.1 537.7V543.0 M380.6 537.7V543.0 M381.7 537.7V543.0 M390.3 537.7V543.0 M396.6 537.7V543.0 M408.6 537.7V543.0 M418.4 537.7V543.0 M422.5 537.7V543.0 M425.5 537.7V543.0 M435.5 537.7V543.0 M439.7 537.7V543.0 M441.0 537.7V543.0 M444.5 537.7V543.0 M445.1 537.7V543.0 M452.2 537.7V543.0 M466.3 537.7V543.0 M468.4 537.7V543.0 M472.4 537.7V543.0 M473.1 537.7V543.0 M474.1 537.7V543.0 M491.2 537.7V543.0 M494.3 537.7V543.0 M498.0 537.7V543.0 M498.9 537.7V543.0 M502.0 537.7V543.0 M506.0 537.7V543.0 M506.7 537.7V543.0 M507.4 537.7V543.0" stroke="#F8766D" stroke-width="0.9" stroke-opacity="0.55" fill="none"/>
<path d="M506.7 537.7V543.0" stroke="#F8766D" stroke-width="0.9" stroke-opacity="0.75" fill="none"/>
<path d="M152.78 335.3V543.9" stroke="#828282" stroke-width="1" fill="none"/>
<path d="M152.3 543.4H508.2" stroke="#8a8a8a" stroke-width="1" fill="none"/>
<line x1="150.4" y1="381.4" x2="152.3" y2="381.4" stroke="#7a7a7a" stroke-width="0.8"/>
<text x="139.81" y="383.90" class="tick" font-size="5.6" textLength="10.41" lengthAdjust="spacingAndGlyphs">0.25</text>
<line x1="150.4" y1="429.95" x2="152.3" y2="429.95" stroke="#7a7a7a" stroke-width="0.8"/>
<text x="139.79" y="432.40" class="tick" font-size="5.6" textLength="10.41" lengthAdjust="spacingAndGlyphs">0.00</text>
<line x1="150.4" y1="478.5" x2="152.3" y2="478.5" stroke="#7a7a7a" stroke-width="0.8"/>
<text x="138.03" y="480.70" class="tick" font-size="5.6" textLength="12.19" lengthAdjust="spacingAndGlyphs">-0.25</text>
<line x1="272.3" y1="543.6" x2="272.3" y2="545.2" stroke="#7a7a7a" stroke-width="0.8"/>
<text x="265.35" y="551.70" class="xt" font-size="6.6" textLength="13.90" lengthAdjust="spacingAndGlyphs">5000</text>
<line x1="392.3" y1="543.6" x2="392.3" y2="545.2" stroke="#7a7a7a" stroke-width="0.8"/>
<text x="383.74" y="551.70" class="xt" font-size="6.6" textLength="16.89" lengthAdjust="spacingAndGlyphs">10000</text>
<g transform="translate(135.6,0) rotate(-90 0 0)"><text x="-464.51" y="0.00" class="yt" font-size="6.2" textLength="74.38" lengthAdjust="spacingAndGlyphs">Running Enrichment Score</text></g>
</svg>
</div></body></html>
